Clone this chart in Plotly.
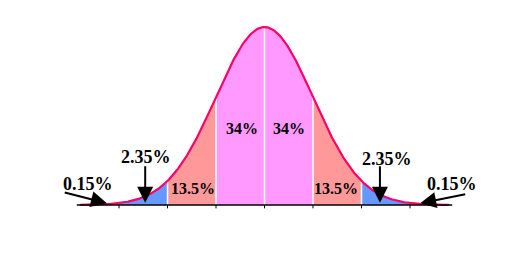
import numpy as np
import plotly.graph_objects as go

# Data
bands = [(-3.8, -3.0), (-3.0, -2.0), (-2.0, -1.0), (-1.0, 0.0), (0.0, 1.0), (1.0, 2.0), (2.0, 3.0), (3.0, 3.8)]
band_colors = ["#FF9966", "#6699FF", "#FF9999", "#FF99FF", "#FF99FF", "#FF9999", "#6699FF", "#FF9966"]
divider_x = [-2, -1, 0, 1, 2]
tick_x = [-3, -2, -1, 0, 1, 2, 3]
inner_labels = ["34%", "34%", "13.5%", "13.5%"]
inner_label_x = [-0.46, 0.50, -1.48, 1.48]
inner_label_y = [0.172, 0.172, 0.037, 0.037]
outer_labels = ["2.35%", "2.35%", "0.15%", "0.15%"]
outer_label_x = [-2.44, 2.53, -3.63, 3.87]
outer_label_y = [0.108, 0.103, 0.047, 0.046]
arrow_tail_x = [-2.46, 2.38, -4.15, 4.17]
arrow_tail_y = [0.090, 0.090, 0.029, 0.025]
arrow_head_x = [-2.46, 2.38, -3.25, 3.21]
arrow_head_y = [0.005, 0.005, 0.004, 0.004]


def pdf(x):
    return np.exp(-0.5 * x ** 2) / np.sqrt(2 * np.pi)


fig = go.Figure()

for (a, b), c in zip(bands, band_colors):
    xs = np.linspace(a, b, 80)
    px = np.concatenate([[a], xs, [b]])
    py = np.concatenate([[0], pdf(xs), [0]])
    fig.add_trace(go.Scatter(x=px, y=py, fill="toself", fillcolor=c, mode="none",
                             hoverinfo="skip", showlegend=False))

for d in divider_x:
    fig.add_trace(go.Scatter(x=[d, d], y=[0, pdf(d)], mode="lines",
                             line=dict(color="white", width=1.5), showlegend=False, hoverinfo="skip"))

xc = np.linspace(-3.8, 3.8, 400)
fig.add_trace(go.Scatter(x=xc, y=pdf(xc), mode="lines", line=dict(color="#FF0066", width=2.2),
                         showlegend=False, hoverinfo="skip"))

# axis line
fig.add_trace(go.Scatter(x=[-3.87, 3.87], y=[0, 0], mode="lines", line=dict(color="black", width=1.5),
                         showlegend=False, hoverinfo="skip"))
for t in tick_x:
    fig.add_trace(go.Scatter(x=[t, t], y=[0, -0.0075], mode="lines", line=dict(color="black", width=1),
                             showlegend=False, hoverinfo="skip"))

font = "Liberation Serif, Times New Roman, serif"
for t, x, y in zip(inner_labels, inner_label_x, inner_label_y):
    fig.add_annotation(x=x, y=y, text="<b>%s</b>" % t, showarrow=False,
                       font=dict(family=font, size=16, color="black"))
for t, x, y in zip(outer_labels, outer_label_x, outer_label_y):
    fig.add_annotation(x=x, y=y, text="<b>%s</b>" % t, showarrow=False,
                       font=dict(family=font, size=18, color="black"))
for tx, ty, hx, hy in zip(arrow_tail_x, arrow_tail_y, arrow_head_x, arrow_head_y):
    fig.add_annotation(x=hx, y=hy, ax=tx, ay=ty, axref="x", ayref="y", xref="x", yref="y",
                       text="", showarrow=True, arrowhead=2, arrowsize=1.6, arrowwidth=2,
                       arrowcolor="black")

fig.update_layout(
    width=523, height=277,
    margin=dict(l=0, r=0, t=0, b=0),
    paper_bgcolor="white", plot_bgcolor="white",
    xaxis=dict(range=[-5.454, 5.330], visible=False, fixedrange=True),
    yaxis=dict(range=[-0.1614, 0.4596], visible=False, fixedrange=True),
)

fig.write_html("out.html")
